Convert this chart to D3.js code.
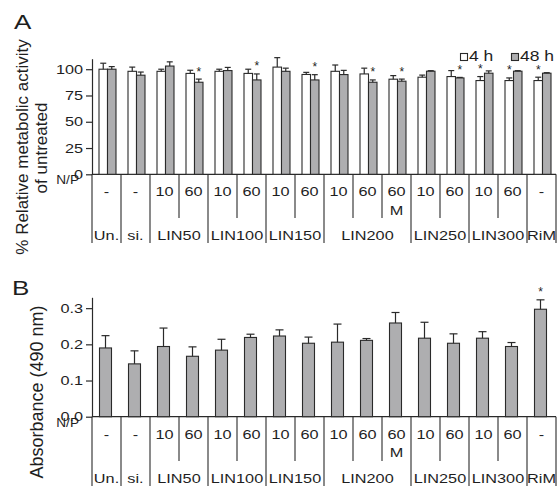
<!DOCTYPE html>
<html>
<head>
<meta charset="utf-8">
<script src="https://cdn.jsdelivr.net/npm/d3@7"></script>
<style>
body { margin: 0; background: #fff; }
svg { display: block; font-family: "Liberation Sans", Arial, sans-serif; }
</style>
</head>
<body>
<svg width="557" height="486"></svg>
<script>
// categories
const polymers = ['Un.', 'si.', 'LIN50', 'LIN50', 'LIN100', 'LIN100', 'LIN150', 'LIN150',
                  'LIN200', 'LIN200', 'LIN200', 'LIN250', 'LIN250', 'LIN300', 'LIN300', 'RiM'];
const npLabels = ['-', '-', '10', '60', '10', '60', '10', '60', '10', '60', '60', '10', '60', '10', '60', '-'];
const mLabels  = ['', '', '', '', '', '', '', '', '', '', 'M', '', '', '', '', ''];

// panel A: metabolic activity (% of untreated)
const series   = ['4 h', '48 h'];
const act4h    = [100, 98, 98, 96, 98, 96, 102, 95, 98, 95.5, 90.5, 92.4, 93, 89.2, 89.2, 89.2];
const err4h    = [5.7, 4, 2, 3, 2, 4, 9, 2, 6, 5.5, 3.4, 2, 5.7, 3.8, 2.5, 3.2];
const act48h   = [100, 94.3, 103, 87.6, 98.7, 89.8, 98, 89.8, 94.9, 87.6, 88.6, 98.1, 91.7, 96.2, 98.1, 96.2];
const err48h   = [2.5, 3, 4, 3, 3, 5.7, 3, 5, 4, 2.2, 2, 0.5, 0.5, 2.2, 0.5, 0.5];
const star4h   = [0, 0, 0, 0, 0, 0, 0, 0, 0, 0, 0, 0, 0, 1, 1, 1];
const star48h  = [0, 0, 0, 1, 0, 1, 0, 1, 0, 1, 1, 0, 1, 0, 0, 0];
const ticksA   = [0, 25, 50, 75, 100];

// panel B: absorbance (490 nm)
const absorb   = [0.190, 0.146, 0.194, 0.167, 0.184, 0.219, 0.223, 0.203, 0.206, 0.211, 0.259, 0.217, 0.203, 0.217, 0.194, 0.297];
const absErr   = [0.034, 0.036, 0.051, 0.026, 0.030, 0.009, 0.017, 0.017, 0.050, 0.005, 0.029, 0.044, 0.026, 0.018, 0.011, 0.026];
const absStar  = [0, 0, 0, 0, 0, 0, 0, 0, 0, 0, 0, 0, 0, 0, 0, 1];
const ticksB   = [0.0, 0.1, 0.2, 0.3];

const INK  = '#2a2a2a';
const GREY = '#aeaeb0';
const SX   = 1.25;   // the figure's text is drawn wide

const svg = d3.select('svg');

const x = d3.scaleBand().domain(d3.range(polymers.length)).range([92, 556]);
const xPair = d3.scaleBand().domain(series).range([7, 24]);

function wideText(g, px, py, s, size, anchor, sx) {
	return g.append('text')
		.attr('transform', `translate(${px},${py}) scale(${sx},1)`)
		.attr('text-anchor', anchor)
		.style('font-size', size + 'px')
		.attr('fill', '#1e1e1e')
		.text(s);
}

function drawAxis(y, ticks, fmt) {
	const ax = svg.append('g')
		.attr('transform', 'translate(92,0)')
		.call(d3.axisLeft(y).tickValues(ticks).tickFormat(fmt).tickSize(6).tickSizeOuter(0).tickPadding(3));
	ax.select('.domain').attr('stroke', INK).attr('stroke-width', 1.2);
	ax.selectAll('.tick line').attr('stroke', INK).attr('stroke-width', 1.2);
	ax.selectAll('.tick text')
		.attr('x', -9 / SX)
		.attr('transform', `scale(${SX},1)`)
		.attr('fill', '#1e1e1e')
		.style('font-size', '13px')
		.style('font-family', '"Liberation Sans", Arial, sans-serif');
	svg.append('line')
		.attr('x1', 92).attr('x2', 556)
		.attr('y1', y(0)).attr('y2', y(0))
		.attr('stroke', INK).attr('stroke-width', 1.2);
}

function errorBar(g, cx, yTop, yErr, capW) {
	g.append('line').attr('x1', cx).attr('x2', cx).attr('y1', yTop).attr('y2', yErr)
		.attr('stroke', INK).attr('stroke-width', 1.2);
	g.append('line').attr('x1', cx - capW / 2).attr('x2', cx + capW / 2).attr('y1', yErr).attr('y2', yErr)
		.attr('stroke', INK).attr('stroke-width', 1.2);
}

function star(g, cx, yErr) {
	g.append('text').attr('x', cx).attr('y', yErr - 3.5)
		.attr('text-anchor', 'middle').style('font-size', '12px')
		.attr('fill', '#1e1e1e').text('*');
}

// table under each panel: N/P row, "M" row, polymer row and the separators
function drawTable(top, rows) {
	const g = svg.append('g');
	wideText(g, 79, rows.np, 'N/P', 13, 'end', 1.05);
	npLabels.forEach((s, i) => {
		wideText(g, x(i) + x.bandwidth() / 2, rows.num, s, 13, 'middle', SX);
		if (mLabels[i]) wideText(g, x(i) + x.bandwidth() / 2, rows.m, mLabels[i], 13, 'middle', SX);
	});
	// group spans
	let start = 0;
	for (let i = 1; i <= polymers.length; i++) {
		if (i == polymers.length || polymers[i] != polymers[start]) {
			const cx = (x(start) + x(i - 1) + x.bandwidth()) / 2;
			wideText(g, cx, rows.group, polymers[start], 13, 'middle', SX);
			start = i;
		}
	}
	for (let i = 0; i <= polymers.length; i++) {
		const px = i == polymers.length ? 556 : x(i);
		const full = i == 0 || i == polymers.length || polymers[i] != polymers[i - 1];
		g.append('line')
			.attr('x1', px).attr('x2', px)
			.attr('y1', top).attr('y2', full ? rows.fullEnd : rows.subEnd)
			.attr('stroke', INK).attr('stroke-width', 1.1);
	}
}

// ---------- panel A ----------
const yA = d3.scaleLinear().domain([0, 110]).range([174.3, 58.7]);
drawAxis(yA, ticksA, d3.format('d'));

const gA = svg.append('g');
const rowsA = polymers.map((p, i) => ({
	i: i,
	vals: [
		{ key: '4 h',  v: act4h[i],  e: err4h[i],  s: star4h[i] },
		{ key: '48 h', v: act48h[i], e: err48h[i], s: star48h[i] }
	]
}));
rowsA.forEach(r => {
	r.vals.forEach(d => {
		const bx = x(r.i) + xPair(d.key);
		const cx = bx + xPair.bandwidth() / 2;
		gA.append('rect')
			.attr('x', bx).attr('y', yA(d.v))
			.attr('width', xPair.bandwidth()).attr('height', yA(0) - yA(d.v))
			.attr('fill', d.key == '4 h' ? '#fff' : GREY)
			.attr('stroke', INK).attr('stroke-width', 1.1);
		errorBar(gA, cx, yA(d.v), yA(d.v + d.e), 6);
		if (d.s) star(gA, cx, yA(d.v + d.e));
	});
});

// legend
const leg = svg.append('g');
[{ key: '4 h', x: 460.5, fill: '#fff' }, { key: '48 h', x: 511.5, fill: GREY }].forEach(l => {
	leg.append('rect').attr('x', l.x).attr('y', 53.5).attr('width', 7).attr('height', 7)
		.attr('fill', l.fill).attr('stroke', INK).attr('stroke-width', 1.1);
	wideText(leg, l.x + 8.5, 61, l.key, 14, 'start', SX);
});

drawTable(174.3, { np: 184, num: 196, m: 215, group: 240, subEnd: 218, fullEnd: 243 });

// y title A
svg.append('text')
	.attr('transform', 'translate(28,147) rotate(-90)')
	.attr('text-anchor', 'middle').style('font-size', '17px').attr('fill', '#1e1e1e')
	.text('% Relative metabolic activity');
svg.append('text')
	.attr('transform', 'translate(47,148) rotate(-90)')
	.attr('text-anchor', 'middle').style('font-size', '17px').attr('fill', '#1e1e1e')
	.text('of untreated');
wideText(svg, 14, 29, 'A', 20, 'start', 1.3);

// ---------- panel B ----------
const yB = d3.scaleLinear().domain([0, 0.33]).range([416.7, 297.3]);
drawAxis(yB, ticksB, d3.format('.1f'));

const gB = svg.append('g');
absorb.forEach((v, i) => {
	const bx = x(i) + 7.5;
	const bw = 12;
	gB.append('rect')
		.attr('x', bx).attr('y', yB(v))
		.attr('width', bw).attr('height', yB(0) - yB(v))
		.attr('fill', GREY).attr('stroke', INK).attr('stroke-width', 1.1);
	errorBar(gB, bx + bw / 2, yB(v), yB(v + absErr[i]), 8);
	if (absStar[i]) star(gB, bx + bw / 2, yB(v + absErr[i]));
});

drawTable(416.7, { np: 427, num: 439, m: 457, group: 483, subEnd: 461, fullEnd: 487 });

svg.append('text')
	.attr('transform', 'translate(43,392) rotate(-90)')
	.attr('text-anchor', 'middle').style('font-size', '18px').attr('fill', '#1e1e1e')
	.text('Absorbance (490 nm)');
wideText(svg, 12, 295, 'B', 20, 'start', 1.3);
</script>
</body>
</html>
